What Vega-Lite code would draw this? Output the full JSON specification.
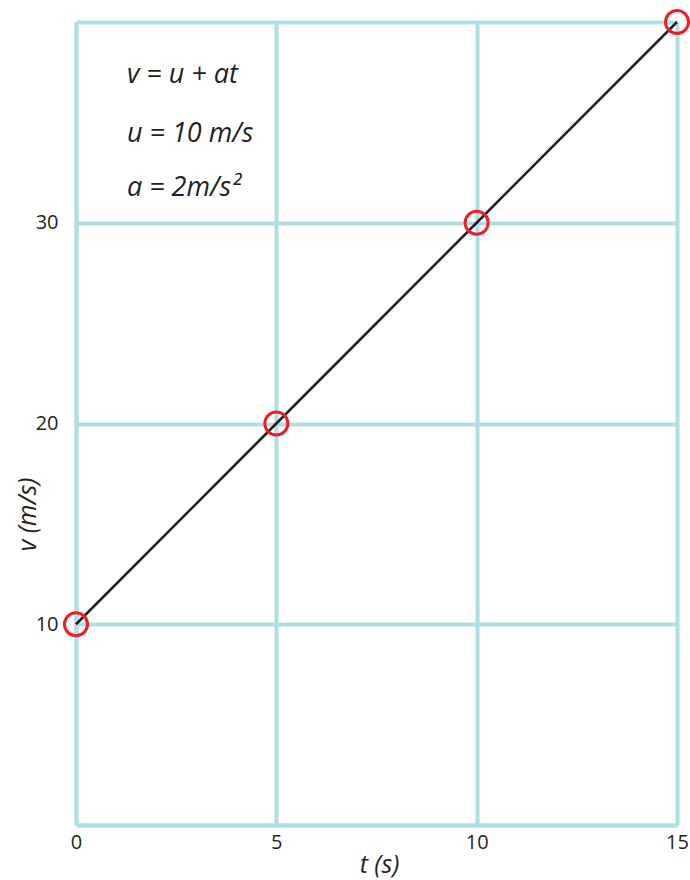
{
  "$schema": "https://vega.github.io/schema/vega-lite/v6.json",
  "autosize": {"type": "none"},
  "width": 601,
  "height": 803,
  "padding": {"left": 76, "top": 22, "right": 13, "bottom": 55},
  "background": "white",
  "config": {
    "view": {"stroke": null},
    "font": "Open Sans",
    "axis": {
      "gridColor": "#b0dfe3",
      "gridWidth": 4,
      "gridOpacity": 1,
      "domainColor": "#b0dfe3",
      "domainWidth": 4,
      "ticks": false,
      "labelFont": "Open Sans",
      "labelFontSize": 20,
      "labelColor": "#231f20",
      "titleFont": "Open Sans",
      "titleFontSize": 25,
      "titleFontStyle": "italic",
      "titleFontWeight": "normal",
      "titleColor": "#231f20"
    }
  },
  "datasets": {
    "pts": [
      {"t": 0, "v": 10},
      {"t": 5, "v": 20},
      {"t": 10, "v": 30},
      {"t": 15, "v": 40}
    ],
    "notes": [
      {"t": 1.27, "v": 36.96, "label": "v = u + at"},
      {"t": 1.27, "v": 34.02, "label": "u = 10 m/s"},
      {"t": 1.27, "v": 31.33, "label": "a = 2m/s²"}
    ]
  },
  "layer": [
    {
      "data": {"name": "pts"},
      "mark": {"type": "line", "color": "#231f20", "strokeWidth": 2.5},
      "encoding": {
        "x": {
          "field": "t", "type": "quantitative",
          "scale": {"domain": [0, 15], "nice": false},
          "axis": {"values": [0, 5, 10, 15], "title": "t (s)", "labelPadding": 7, "labelFlush": false,
                   "titleBaseline": "middle", "titleY": 39, "titleX": 303, "titleAlign": "center"}
        },
        "y": {
          "field": "v", "type": "quantitative",
          "scale": {"domain": [0, 40], "nice": false},
          "axis": {
            "values": [0, 10, 20, 30, 40],
            "labelExpr": "datum.value == 0 || datum.value == 40 ? '' : datum.label",
            "title": "v (m/s)", "labelPadding": 18, "labelFlush": false,
            "titleBaseline": "middle", "titleAlign": "center", "titleAngle": -90, "titleX": -49, "titleY": 492
          }
        }
      }
    },
    {
      "data": {"name": "pts"},
      "mark": {"type": "point", "shape": "circle", "filled": false, "color": "#e8202a", "strokeWidth": 3, "size": 530, "opacity": 1},
      "encoding": {
        "x": {"field": "t", "type": "quantitative"},
        "y": {"field": "v", "type": "quantitative"}
      }
    },
    {
      "data": {"name": "notes"},
      "mark": {"type": "text", "align": "left", "baseline": "alphabetic", "fontSize": 27, "fontStyle": "italic", "font": "Open Sans", "color": "#231f20"},
      "encoding": {
        "x": {"field": "t", "type": "quantitative"},
        "y": {"field": "v", "type": "quantitative"},
        "text": {"field": "label"}
      }
    }
  ]
}
